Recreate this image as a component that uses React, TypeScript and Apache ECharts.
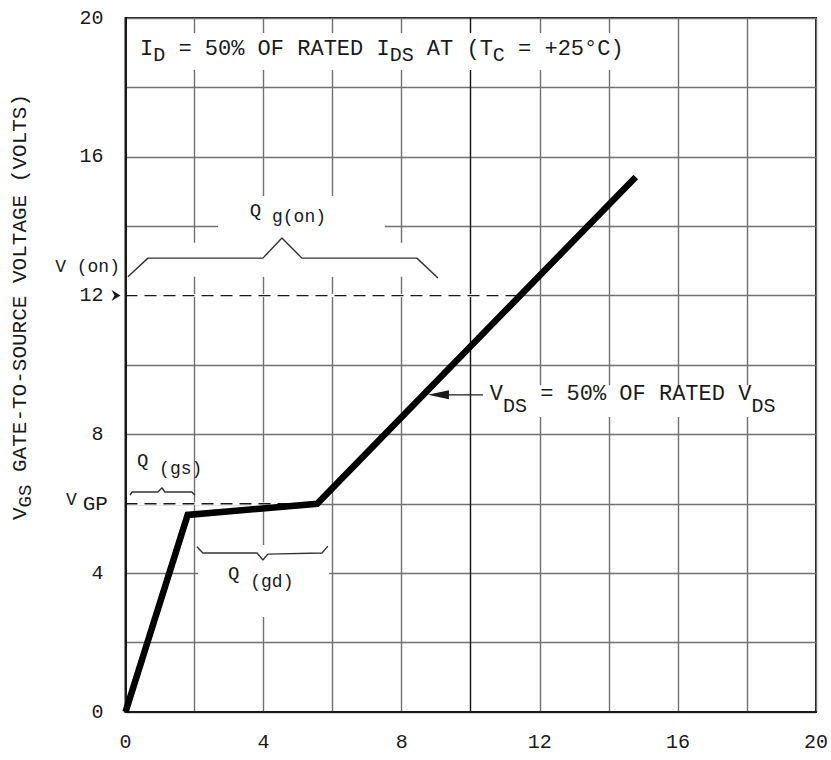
import React, { useEffect, useRef } from "react";
import * as echarts from "echarts";

// ---- data ----
// gate-charge curve: x = gate charge, y = V_GS (volts)
const chargeX = [0, 1.8, 5.55, 14.78];
const voltageY = [0, 5.68, 6.0, 15.42];

const xTickLabels = [0, 4, 8, 12, 16, 20];
const yTickLabels = [0, 4, 8, 12, 16, 20];

// reference levels (dashed)
const vOnLevel = 12;
const vOnEndX = 11.43;
const vgpLevel = 6;
const vgpEndX = 5.55;

// braces
const qgOnBraceX = [0.07, 0.65, 3.98, 4.53, 5.11, 8.44, 9.05];
const qgOnBraceY = [12.54, 13.08, 13.08, 13.66, 13.08, 13.08, 12.51];
const qgsBraceX = [0.13, 0.19, 0.94, 1.06, 1.14, 1.92, 2.01];
const qgsBraceY = [6.25, 6.34, 6.34, 6.46, 6.34, 6.34, 6.25];
const qgdBraceX = [2.07, 2.24, 3.81, 3.98, 4.12, 5.69, 5.86];
const qgdBraceY = [4.76, 4.58, 4.58, 4.38, 4.55, 4.58, 4.78];

// ---- layout / style ----
const FONT = '"Liberation Mono", "DejaVu Sans Mono", monospace';
const INK = "#1a1a1a";
const GRID = "#707070";

// white masks behind annotation text (data coords: x0, x1, yTop, yBottom)
const masks = [
  [0.27, 14.46, 19.57, 18.5],
  [2.68, 7.51, 14.87, 12.54],
  [0.42, 8.81, 13.52, 12.54],
  [0.19, 1.92, 7.67, 6.4],
  [2.1, 5.9, 4.81, 2.74],
  [10.44, 19.52, 9.42, 8.5],
];

const zip = (xs: number[], ys: number[]) => xs.map((x, i) => [x, ys[i]]);

// main text on top of the line, subscript pushed down by `offset` px
function rich(main: number, sub: number, offset: number, offset2?: number) {
  const r: any = {
    m: { fontFamily: FONT, fontSize: main, lineHeight: main, verticalAlign: "top", color: INK },
    s: {
      fontFamily: FONT,
      fontSize: sub,
      lineHeight: (main + sub) / 2 + offset,
      verticalAlign: "bottom",
      color: INK,
    },
    g: { fontSize: 1, width: 6, verticalAlign: "top" },
  };
  if (offset2 !== undefined) {
    r.t = {
      fontFamily: FONT,
      fontSize: sub,
      lineHeight: (main + sub) / 2 + offset2,
      verticalAlign: "bottom",
      color: INK,
    };
  }
  return r;
}

export default function App() {
  const ref = useRef<HTMLDivElement>(null);

  useEffect(() => {
    document.body.style.margin = "0";
    const chart = echarts.init(ref.current!, null, { renderer: "svg" });
    const xGridColors = Array.from({ length: 11 }, (_, i) => (i === 5 ? "#111" : GRID));

    const line = (data: number[][], style: any, z: number) => ({
      type: "line",
      data,
      symbol: "none",
      silent: true,
      z,
      lineStyle: style,
    });

    chart.setOption({
      animation: false,
      backgroundColor: "#fff",
      grid: {
        left: 125.5,
        right: 14.5,
        top: 18,
        bottom: 48,
        show: true,
        borderColor: INK,
        borderWidth: 2,
        backgroundColor: "rgba(0,0,0,0)",
      },
      xAxis: {
        type: "value",
        min: 0,
        max: 20,
        interval: 2,
        axisLine: { show: true, onZero: false, lineStyle: { color: INK, width: 2 } },
        axisTick: { show: false },
        axisLabel: {
          margin: 20,
          fontFamily: FONT,
          fontSize: 20,
          color: INK,
          formatter: (v: number) => (xTickLabels.includes(v) ? String(v) : ""),
        },
        splitLine: { show: true, lineStyle: { color: xGridColors, width: 1.4 } },
      },
      yAxis: {
        type: "value",
        min: 0,
        max: 20,
        interval: 2,
        axisLine: { show: true, onZero: false, lineStyle: { color: INK, width: 2 } },
        axisTick: { show: false },
        axisLabel: {
          margin: 22,
          fontFamily: FONT,
          fontSize: 20,
          color: INK,
          formatter: (v: number) => (yTickLabels.includes(v) ? String(v) : ""),
        },
        splitLine: { show: true, lineStyle: { color: GRID, width: 1.4 } },
      },
      series: [
        line([[0.05, vOnLevel], [vOnEndX, vOnLevel]], { color: "#fff", width: 3 }, 3),
        line([[0, vOnLevel], [vOnEndX, vOnLevel]], { color: INK, width: 1.4, type: [12, 7] }, 4),
        line([[0.05, vgpLevel], [vgpEndX, vgpLevel]], { color: "#fff", width: 3 }, 3),
        line([[0, vgpLevel], [vgpEndX, vgpLevel]], { color: INK, width: 1.4, type: [12, 7] }, 4),
        line(zip(qgOnBraceX, qgOnBraceY), { color: "#333", width: 1.4 }, 4),
        line(zip(qgsBraceX, qgsBraceY), { color: "#333", width: 1.4 }, 4),
        line(zip(qgdBraceX, qgdBraceY), { color: "#333", width: 1.4 }, 4),
        line(zip(chargeX, voltageY), { color: "#000", width: 6.5, cap: "butt", join: "miter" }, 6),
      ],
    });

    const p = (x: number, y: number) => chart.convertToPixel({ gridIndex: 0 }, [x, y]) as number[];

    const graphics: any[] = [];
    masks.forEach(([x0, x1, yt, yb]) => {
      const a = p(x0, yt);
      const b = p(x1, yb);
      graphics.push({
        type: "rect",
        z: 1,
        silent: true,
        shape: { x: a[0], y: a[1], width: b[0] - a[0], height: b[1] - a[1] },
        style: { fill: "#fff" },
      });
    });

    const text = (x: number, y: number, str: string, r: any, main: number, align = "left") => {
      const q = p(x, y);
      graphics.push({
        type: "text",
        z: 10,
        x: q[0],
        y: q[1] - main / 2,
        style: { text: str, rich: r, align, verticalAlign: "top", fill: INK },
      });
    };

    text(0.42, 19.08, "{m|I}{s|D}{m| = 50% OF RATED I}{s|DS}{m| AT (T}{s|C}{m| = +25°C)}", rich(22, 20, 6), 22);
    text(3.6, 14.44, "{m|Q}{s| g(on)}", rich(19, 18, 6), 19);
    text(-0.16, 12.82, "{m|V (on)}", rich(18, 18, 0), 18, "right");
    text(-0.51, 6.11, "{m|V}{g| }{s|GP}", rich(18, 21, 5), 18, "right");
    text(0.33, 7.23, "{m|Q}{s| (gs)}", rich(19, 18, 8), 19);
    text(2.97, 3.98, "{m|Q}{s| (gd)}", rich(19, 18, 8), 19);
    text(10.55, 9.14, "{m|V}{t|DS}{m| = 50% OF RATED V}{s|DS}", rich(22, 20, 12, 8), 22);

    // arrow to the curve
    const a1 = p(10.35, 9.14);
    const a2 = p(8.76, 9.14);
    graphics.push({
      type: "line",
      z: 10,
      shape: { x1: a1[0], y1: a1[1], x2: a2[0] + 12, y2: a2[1] },
      style: { stroke: INK, lineWidth: 1.4 },
    });
    graphics.push({
      type: "polygon",
      z: 10,
      shape: { points: [[a2[0], a2[1]], [a2[0] + 21, a2[1] - 4.5], [a2[0] + 21, a2[1] + 4.5]] },
      style: { fill: INK },
    });

    // arrowhead at the 12 V tick
    const t = p(0, vOnLevel);
    graphics.push({
      type: "polygon",
      z: 10,
      shape: {
        points: [[t[0] - 5, t[1]], [t[0] - 14, t[1] - 5.5], [t[0] - 11, t[1]], [t[0] - 14, t[1] + 5.5]],
      },
      style: { fill: INK },
    });

    // rotated y-axis title
    graphics.push({
      type: "text",
      z: 10,
      x: 22.5,
      y: 307,
      rotation: Math.PI / 2,
      style: {
        text: "{m|V}{s|GS}{m| GATE-TO-SOURCE VOLTAGE (VOLTS)}",
        rich: rich(21, 19, 5.5),
        align: "center",
        verticalAlign: "middle",
        fill: INK,
      },
    });

    chart.setOption({ graphic: graphics });

    return () => chart.dispose();
  }, []);

  return <div ref={ref} style={{ width: 831, height: 760 }} />;
}
